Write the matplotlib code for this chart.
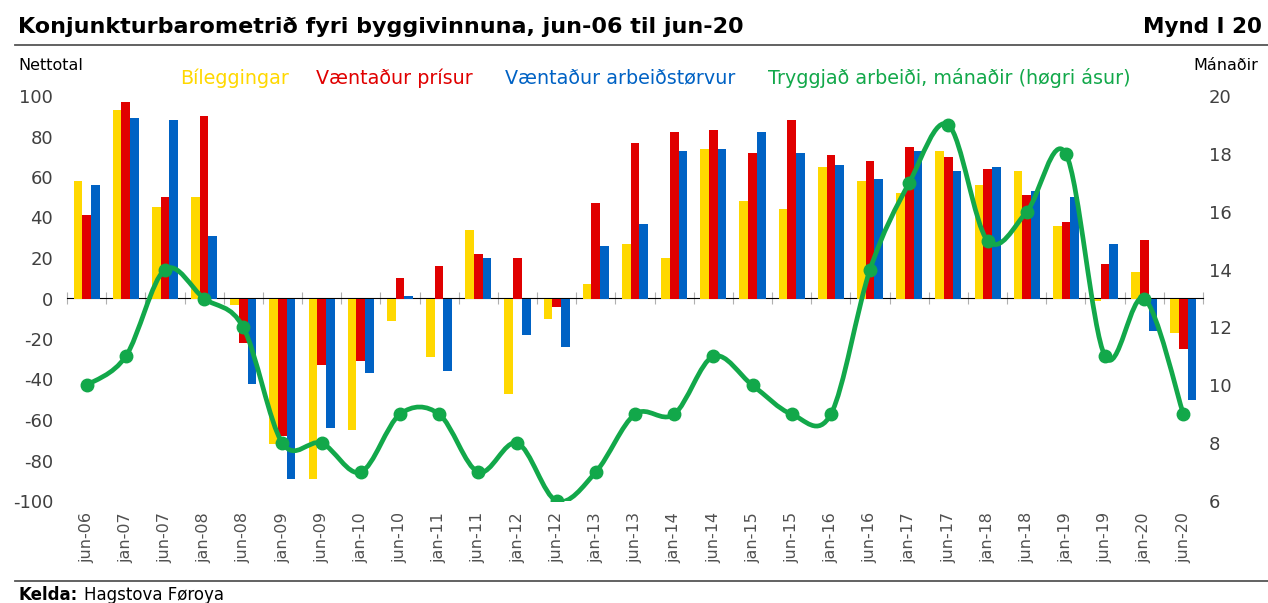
import matplotlib
matplotlib.use("Agg")
import matplotlib.pyplot as plt
import numpy as np
from matplotlib.path import Path
from matplotlib.patches import PathPatch

plt.rcParams['font.family'] = ['DejaVu Sans']
plt.rcParams['axes.unicode_minus'] = False

# data
periods = ['jun-06', 'jan-07', 'jun-07', 'jan-08', 'jun-08', 'jan-09', 'jun-09', 'jan-10',
           'jun-10', 'jan-11', 'jun-11', 'jan-12', 'jun-12', 'jan-13', 'jun-13', 'jan-14',
           'jun-14', 'jan-15', 'jun-15', 'jan-16', 'jun-16', 'jan-17', 'jun-17', 'jan-18',
           'jun-18', 'jan-19', 'jun-19', 'jan-20', 'jun-20']
bileggingar = [58, 93, 45, 50, -3, -72, -89, -65, -11, -29, 34, -47, -10, 7, 27, 20,
               74, 48, 44, 65, 58, 52, 73, 56, 63, 36, -1, 13, -17]
vaentadur_prisur = [41, 97, 50, 90, -22, -68, -33, -31, 10, 16, 22, 20, -4, 47, 77, 82,
                    83, 72, 88, 71, 68, 75, 70, 64, 51, 38, 17, 29, -25]
arbeidstorvur = [56, 89, 88, 31, -42, -89, -64, -37, 1, -36, 20, -18, -24, 26, 37, 73,
                 74, 82, 72, 66, 59, 73, 63, 65, 53, 50, 27, -16, -50]
tryggjad = [10, 11, 14, 13, 12, 8, 8, 7, 9, 9, 7, 8, 6, 7, 9, 9,
            11, 10, 9, 9, 14, 17, 19, 15, 16, 18, 11, 13, 9]

YELLOW = '#FFD800'
RED = '#E00000'
BLUE = '#0062C4'
GREEN = '#12A84A'
TXT = '#404040'

fig = plt.figure(figsize=(12.68, 6.03), dpi=100)
ax = fig.add_axes([67 / 1268, 1 - 501 / 603, (1203 - 67) / 1268, 405 / 603])
ax2 = ax.twinx()

x = np.arange(len(periods))
w = 0.222
ax.bar(x - w, bileggingar, w, color=YELLOW, zorder=2)
ax.bar(x, vaentadur_prisur, w, color=RED, zorder=2)
ax.bar(x + w, arbeidstorvur, w, color=BLUE, zorder=2)

ax.set_xlim(-0.5, len(periods) - 0.5)
ax.set_ylim(-100, 100)
ax.set_yticks(range(-100, 101, 20))
ax.set_xticks(x)
ax.set_xticklabels(periods, rotation=90, fontsize=11.5, color='#505050')
ax.tick_params(axis='x', length=0, pad=8)
ax.tick_params(axis='y', length=0, labelsize=13, colors=TXT, pad=10)
for s in ax.spines.values():
    s.set_visible(False)

# zero line with category boundary ticks
zero = ax.secondary_xaxis(0.5)
zero.spines['bottom'].set_color('#B0B0B0')
zero.set_xticks(np.arange(-0.5, len(periods), 1))
zero.set_xticklabels([])
zero.tick_params(axis='x', direction='inout', length=8, color='#B0B0B0')

# smoothed line (Catmull-Rom as cubic Bezier)
pts = np.column_stack([x, tryggjad]).astype(float)
ext = np.vstack([pts[0], pts, pts[-1]])
verts = [pts[0]]
codes = [Path.MOVETO]
for i in range(len(pts) - 1):
    p0, p1, p2, p3 = ext[i], ext[i + 1], ext[i + 2], ext[i + 3]
    verts += [p1 + (p2 - p0) / 6, p2 - (p3 - p1) / 6, p2]
    codes += [Path.CURVE4] * 3
ax2.add_patch(PathPatch(Path(verts, codes), fill=False, edgecolor=GREEN, lw=3.4,
                        capstyle='round', joinstyle='round', zorder=3))
ax2.plot(x, tryggjad, 'o', color=GREEN, ms=9, zorder=4)
ax2.set_ylim(6, 20)
ax2.set_yticks(range(6, 21, 2))
ax2.tick_params(axis='y', length=0, labelsize=13, colors=TXT, pad=4)
for s in ax2.spines.values():
    s.set_visible(False)

# titles and texts
fig.text(18 / 1268, 1 - 27 / 603, 'Konjunkturbarometrið fyri byggivinnuna, jun-06 til jun-20',
         fontsize=16, fontweight='bold', va='center', ha='left', color='black')
fig.text(1262 / 1268, 1 - 27 / 603, 'Mynd I 20', fontsize=15.5, fontweight='bold',
         va='center', ha='right', color='black')
fig.add_artist(plt.Line2D([15 / 1268, 1], [1 - 45 / 603] * 2, color='#555555', lw=1.3))
fig.add_artist(plt.Line2D([15 / 1268, 1], [1 - 581 / 603] * 2, color='#555555', lw=1.3))

fig.text(18 / 1268, 1 - 65 / 603, 'Nettotal', fontsize=11.5, va='center', ha='left', color='black')
fig.text(1258 / 1268, 1 - 65 / 603, 'Mánaðir', fontsize=11.5, va='center', ha='right', color='black')

legend_items = [('Bíleggingar', YELLOW, 180), ('Væntaður prísur', RED, 316),
                ('Væntaður arbeiðstørvur', BLUE, 505),
                ('Tryggjað arbeiði, mánaðir (høgri ásur)', GREEN, 768)]
for label, col, xp in legend_items:
    fig.text(xp / 1268, 1 - 78 / 603, label, fontsize=13.8, color=col, va='center', ha='left')

fig.text(18 / 1268, 1 - 595 / 603, 'Kelda:', fontsize=12, fontweight='bold', va='center', ha='left')
fig.text(84 / 1268, 1 - 595 / 603, 'Hagstova Føroya', fontsize=12, va='center', ha='left')

fig.savefig('out.png', dpi=100)
